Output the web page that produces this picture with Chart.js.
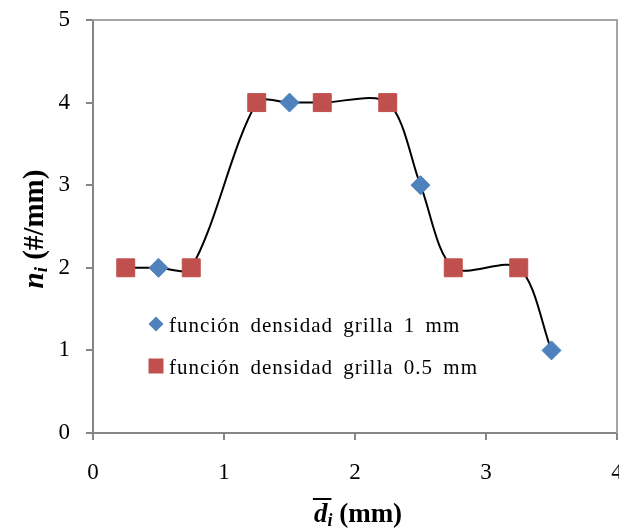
<!DOCTYPE html>
<html>
<head>
<meta charset="utf-8">
<script src="https://cdn.jsdelivr.net/npm/chart.js@4/dist/chart.umd.min.js"></script>
<style>
  html, body { margin: 0; padding: 0; background: #fff; }
</style>
</head>
<body>
<canvas id="densityChart" width="619" height="529"></canvas>
<script>
// grilla de 1 mm
const coarseX = [0.5, 1.5, 2.5, 3.5];
const coarseY = [2, 4, 3, 1];
// grilla de 0.5 mm
const fineX = [0.25, 0.75, 1.25, 1.75, 2.25, 2.75, 3.25];
const fineY = [2, 2, 4, 4, 4, 2, 2];

const xTickValues = [0, 1, 2, 3, 4];
const yTickValues = [0, 1, 2, 3, 4, 5];
const seriesLabels = ["función densidad grilla 1 mm", "función densidad grilla 0.5 mm"];

const serif = "'Liberation Serif', 'Times New Roman', serif";
const axisGray = "#868686";

const toPoints = (xs, ys) => xs.map((x, i) => ({ x: x, y: ys[i] }));

// the smooth curve runs through both grids, ordered by diameter
const curvePoints = toPoints(coarseX, coarseY)
    .concat(toPoints(fineX, fineY))
    .sort((a, b) => a.x - b.x);

function drawPieces(ctx, pieces, x, y) {
    let total = 0;
    pieces.forEach((p) => {
        ctx.font = p.font;
        p.w = ctx.measureText(p.text).width;
        total += p.w;
    });
    let cx = x - total / 2;
    pieces.forEach((p) => {
        ctx.font = p.font;
        ctx.fillText(p.text, cx, y + (p.dy || 0));
        p.x0 = cx;
        cx += p.w;
    });
    return pieces;
}

const decorations = {
    id: "decorations",
    afterDraw(chart) {
        const { ctx, chartArea: a } = chart;
        ctx.save();

        // frame on top and right
        ctx.strokeStyle = "#a6a6a6";
        ctx.lineWidth = 2;
        ctx.beginPath();
        ctx.moveTo(a.left, a.top);
        ctx.lineTo(a.right, a.top);
        ctx.lineTo(a.right, a.bottom);
        ctx.stroke();

        ctx.fillStyle = "#000";
        ctx.textBaseline = "alphabetic";

        // x title: d with overline, subscript i
        const xp = drawPieces(ctx, [
            { text: "d", font: "italic bold 27px " + serif },
            { text: "i", font: "italic bold 18px " + serif, dy: 4 },
            { text: " (mm)", font: "bold 27px " + serif },
        ], 358, 522);
        ctx.strokeStyle = "#000";
        ctx.lineWidth = 2;
        ctx.beginPath();
        ctx.moveTo(xp[0].x0 - 1, 499);
        ctx.lineTo(xp[0].x0 + xp[0].w + 4, 499);
        ctx.stroke();

        // y title, rotated
        ctx.save();
        ctx.translate(43, 229);
        ctx.rotate(-Math.PI / 2);
        drawPieces(ctx, [
            { text: "n", font: "italic bold 29px " + serif },
            { text: "i", font: "italic bold 19px " + serif, dy: 4 },
            { text: " (#/mm)", font: "bold 29px " + serif },
        ], 0, 0);
        ctx.restore();

        // legend inside the plot
        const rows = [
            { y: 324, ds: chart.data.datasets[0] },
            { y: 366, ds: chart.data.datasets[1] },
        ];
        ctx.font = "21px " + serif;
        ctx.letterSpacing = "1px";
        ctx.wordSpacing = "4px";
        rows.forEach((r) => {
            const mx = 156;
            ctx.fillStyle = r.ds.backgroundColor;
            ctx.beginPath();
            if (r.ds.pointStyle === "rectRot") {
                const h = 7.5;
                ctx.moveTo(mx, r.y - h);
                ctx.lineTo(mx + h, r.y);
                ctx.lineTo(mx, r.y + h);
                ctx.lineTo(mx - h, r.y);
                ctx.closePath();
            } else {
                ctx.rect(mx - 7.5, r.y - 7.5, 15, 15);
            }
            ctx.fill();
            ctx.fillStyle = "#000";
            ctx.fillText(r.ds.label, 169, r.y + 8);
        });

        ctx.restore();
    },
};

const tickFont = { family: serif, size: 23 };

new Chart(document.getElementById("densityChart"), {
    type: "scatter",
    data: {
        datasets: [
            {
                label: seriesLabels[0],
                data: toPoints(coarseX, coarseY),
                pointStyle: "rectRot",
                pointRadius: 9.5,
                backgroundColor: "#4F81BD",
                borderColor: "#4F81BD",
                borderWidth: 1,
            },
            {
                label: seriesLabels[1],
                data: toPoints(fineX, fineY),
                pointStyle: "rect",
                pointRadius: 12.7,
                backgroundColor: "#C0504D",
                borderColor: "#C0504D",
                borderWidth: 1,
            },
            {
                label: "curva",
                data: curvePoints,
                showLine: true,
                pointRadius: 0,
                borderColor: "#000",
                borderWidth: 2,
                tension: 0.3,
            },
        ],
    },
    options: {
        responsive: false,
        animation: false,
        events: [],
        layout: { autoPadding: false, padding: { top: 20, right: 2, left: 0, bottom: 0 } },
        plugins: {
            legend: { display: false },
            tooltip: { enabled: false },
        },
        scales: {
            x: {
                type: "linear",
                min: 0,
                max: 4,
                afterBuildTicks: (s) => { s.ticks = xTickValues.map((v) => ({ value: v })); },
                afterFit: (s) => { s.height = 96; s.paddingLeft = 0; s.paddingRight = 0; },
                grid: { drawOnChartArea: false, tickLength: 7, color: axisGray, lineWidth: 2 },
                border: { color: axisGray, width: 2 },
                ticks: { font: tickFont, color: "#000", padding: 19, maxRotation: 0 },
            },
            y: {
                min: 0,
                max: 5,
                afterBuildTicks: (s) => { s.ticks = yTickValues.map((v) => ({ value: v })); },
                afterFit: (s) => { s.width = 93; s.paddingTop = 0; s.paddingBottom = 0; },
                grid: { drawOnChartArea: false, tickLength: 7, color: axisGray, lineWidth: 2 },
                border: { color: axisGray, width: 2 },
                ticks: { font: tickFont, color: "#000", padding: 16 },
            },
        },
    },
    plugins: [decorations],
});
</script>
</body>
</html>
